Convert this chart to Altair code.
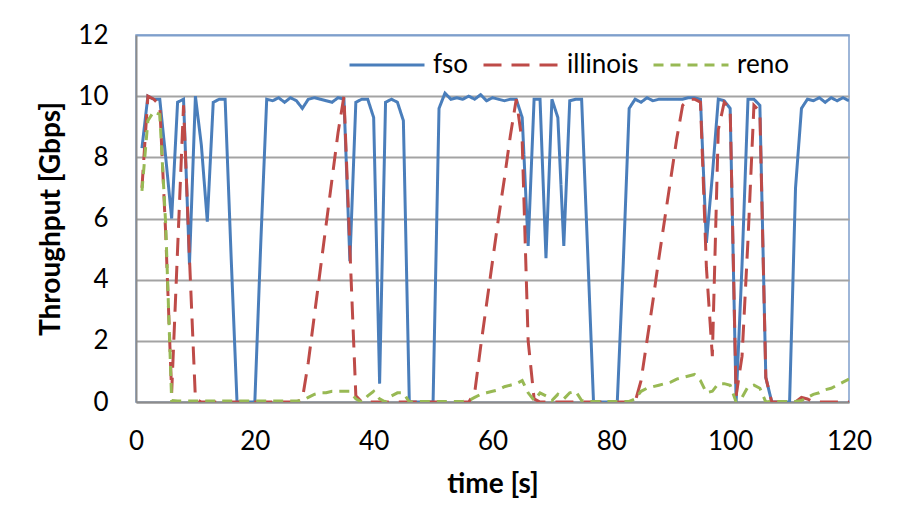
import altair as alt
import pandas as pd

time_s = list(range(1, 121))

fso = [
    8.3, 10.0, 9.9, 9.9, 8.0, 6.0, 9.8, 9.9, 4.5, 10.0,
    8.4, 5.9, 9.8, 9.9, 9.9, 4.8, 0.0, 0.0, 0.0, 0.0,
    5.2, 9.9, 9.85, 9.95, 9.8, 9.95, 9.85, 9.6, 9.9, 9.95,
    9.9, 9.85, 9.8, 9.95, 9.9, 4.6, 9.8, 9.9, 9.9, 9.3,
    0.6, 9.8, 9.9, 9.8, 9.2, 0.0, 0.0, 0.0, 0.0, 0.0,
    9.6, 10.1, 9.9, 9.95, 9.9, 10.0, 9.9, 10.05, 9.85, 9.95,
    9.9, 9.85, 9.9, 9.9, 9.3, 5.1, 9.9, 9.9, 4.7, 9.9,
    9.3, 5.1, 9.85, 9.9, 9.9, 5.0, 0.0, 0.0, 0.0, 0.0,
    0.0, 4.5, 9.6, 9.9, 9.8, 9.95, 9.85, 9.9, 9.9, 9.9,
    9.9, 9.9, 9.95, 9.95, 9.9, 5.2, 7.4, 9.9, 9.85, 9.6,
    0.0, 4.5, 9.9, 9.9, 9.7, 0.8, 0.0, 0.0, 0.0, 0.0,
    7.0, 9.6, 9.9, 9.85, 9.95, 9.8, 9.95, 9.85, 9.95, 9.85,
]

illinois = [
    7.0, 10.0, 9.9, 9.7, 5.5, 0.3, 5.0, 9.7, 4.7, 0.1,
    0.0, 0.0, 0.0, 0.0, 0.0, 0.0, 0.0, 0.0, 0.0, 0.0,
    0.0, 0.0, 0.0, 0.0, 0.0, 0.0, 0.0, 0.1, 1.3, 2.8,
    4.3, 5.8, 7.3, 8.8, 10.0, 5.0, 0.2, 0.0, 0.0, 0.0,
    0.0, 0.0, 0.0, 0.0, 0.0, 0.0, 0.0, 0.0, 0.0, 0.0,
    0.0, 0.0, 0.0, 0.0, 0.0, 0.0, 0.3, 1.8, 3.2, 4.6,
    6.0, 7.3, 8.7, 9.9, 8.5, 2.0, 0.1, 0.0, 0.0, 0.0,
    0.0, 0.0, 0.0, 0.0, 0.0, 0.0, 0.0, 0.0, 0.0, 0.0,
    0.0, 0.0, 0.0, 0.0, 0.7, 2.0, 3.3, 4.7, 6.0, 7.3,
    8.6, 9.7, 9.9, 9.9, 9.8, 4.4, 1.5, 8.9, 9.8, 9.6,
    0.2, 1.5, 5.3, 9.7, 9.5, 0.8, 0.0, 0.0, 0.0, 0.0,
    0.0, 0.15, 0.1, 0.0, 0.0, 0.0, 0.0, 0.0, 0.0, 0.0,
]

reno = [
    6.9, 9.2, 9.5, 9.4, 5.8, 0.05, 0.03, 0.03, 0.03, 0.03,
    0.03, 0.03, 0.03, 0.03, 0.03, 0.03, 0.03, 0.03, 0.03, 0.03,
    0.03, 0.03, 0.03, 0.03, 0.03, 0.03, 0.03, 0.05, 0.15, 0.25,
    0.3, 0.3, 0.35, 0.35, 0.35, 0.35, 0.1, 0.0, 0.2, 0.35,
    0.1, 0.0, 0.2, 0.3, 0.3, 0.0, 0.02, 0.02, 0.02, 0.02,
    0.02, 0.02, 0.02, 0.02, 0.02, 0.05, 0.15, 0.25, 0.3, 0.35,
    0.4, 0.5, 0.55, 0.6, 0.7, 0.3, 0.05, 0.3, 0.2, 0.05,
    0.25, 0.1, 0.3, 0.35, 0.05, 0.02, 0.02, 0.02, 0.02, 0.02,
    0.02, 0.02, 0.02, 0.1, 0.35, 0.45, 0.5, 0.55, 0.6, 0.65,
    0.75, 0.8, 0.85, 0.9, 0.7, 0.3, 0.35, 0.6, 0.6, 0.55,
    0.0, 0.15, 0.5, 0.55, 0.45, 0.0, 0.02, 0.02, 0.02, 0.02,
    0.02, 0.05, 0.15, 0.25, 0.3, 0.4, 0.45, 0.55, 0.65, 0.75,
]

series_names = ["fso", "illinois", "reno"]
series_colors = ["#4a7ebb", "#be4b48", "#98b954"]
series_dashes = [[1, 0], [18, 10], [10, 7]]
x_ticks = [0, 20, 40, 60, 80, 100, 120]
y_ticks = [0, 2, 4, 6, 8, 10, 12]

rows = []
for name, vals in zip(series_names, [fso, illinois, reno]):
    for t, v in zip(time_s, vals):
        rows.append({"time": t, "value": v, "series": name})
df = pd.DataFrame(rows)

FONT = "Lato"

legend_kw = dict(
    title=None, orient="none", legendX=212, legendY=-9,
    direction="horizontal", symbolType="stroke", symbolSize=5625,
    symbolStrokeWidth=3, labelFontSize=26, labelFont=FONT,
    labelColor="#000000", labelOffset=7, columnPadding=8,
    labelLimit=300, padding=0,
)

chart = alt.Chart(df).mark_line(strokeWidth=3, clip=True).encode(
    x=alt.X(
        "time:Q",
        scale=alt.Scale(domain=[0, 120], nice=False),
        axis=alt.Axis(
            values=x_ticks, title="time [s]", grid=False, ticks=False,
            labelPadding=26, titlePadding=16, labelFlush=False,
        ),
    ),
    y=alt.Y(
        "value:Q",
        scale=alt.Scale(domain=[0, 12], nice=False),
        axis=alt.Axis(
            values=y_ticks, title="Throughput [Gbps]", grid=True, ticks=False,
            labelPadding=28, titlePadding=12, labelFlush=False,
            gridColor={"condition": {"test": "datum.value === 12", "value": "#7f9fcc"}, "value": "#a3a3a3"},
        ),
    ),
    color=alt.Color(
        "series:N",
        scale=alt.Scale(domain=series_names, range=series_colors),
        legend=alt.Legend(**legend_kw),
    ),
    strokeDash=alt.StrokeDash(
        "series:N",
        scale=alt.Scale(domain=series_names, range=series_dashes),
        legend=alt.Legend(**legend_kw),
    ),
    order=alt.Order("time:Q"),
).properties(
    width=713,
    height=367,
    autosize=alt.AutoSizeParams(type="none"),
    padding={"left": 128, "top": 27, "right": 50, "bottom": 100},
).configure_view(
    stroke="#7f9fcc", strokeWidth=1.5,
).configure_axis(
    labelFont=FONT, labelFontSize=26, labelColor="#000000",
    titleFont=FONT, titleFontSize=28, titleFontWeight="bold", titleColor="#000000",
    domainColor="#8c8c8c", domainWidth=2, gridWidth=2,
)

chart.save("out.html", embed_options={"renderer": "svg", "actions": False})
